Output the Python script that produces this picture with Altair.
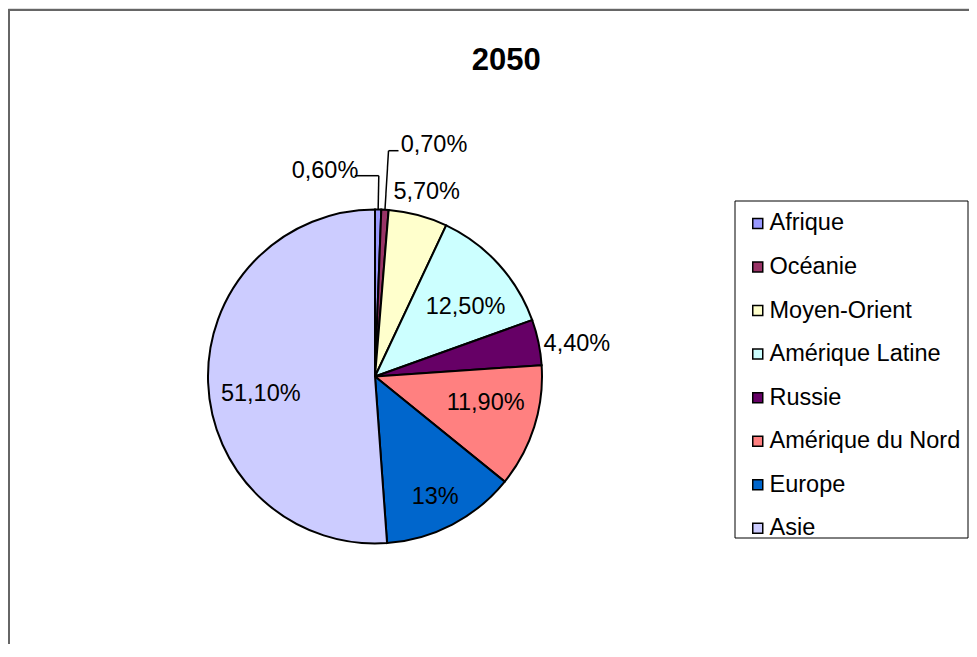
import math
import altair as alt
import pandas as pd

# ---- data ----
categories = ["Afrique", "Océanie", "Moyen-Orient", "Amérique Latine",
              "Russie", "Amérique du Nord", "Europe", "Asie"]
values = [0.6, 0.7, 5.7, 12.5, 4.4, 11.9, 13.0, 51.1]
labels = ["0,60%", "0,70%", "5,70%", "12,50%", "4,40%", "11,90%", "13%", "51,10%"]
colors = ["#9999FF", "#993366", "#FFFFCC", "#CCFFFF",
          "#660066", "#FF8080", "#0066CC", "#CCCCFF"]
title_text = "2050"

df = pd.DataFrame({"region": categories, "value": values,
                   "label": labels, "order": list(range(len(categories)))})
total = float(sum(values))

# ---- layout (view coordinates; page = view + 8) ----
W, H = 961, 636
CX, CY = 367, 368.5
R = 167
FONT = "Liberation Sans"
FS = 23.5

theta_scale = alt.Scale(domain=[0, total])
color_scale = alt.Scale(domain=categories, range=colors)

pie = alt.Chart(df).mark_arc(outerRadius=R, stroke="black", strokeWidth=2).encode(
    theta=alt.Theta("value:Q", stack=True, scale=theta_scale),
    order=alt.Order("order:Q"),
    color=alt.Color("region:N", scale=color_scale, legend=alt.Legend(
        orient="none", legendX=732, legendY=203.7, title=None, padding=0,
        symbolType="square", symbolSize=100, symbolStrokeColor="black",
        symbolStrokeWidth=1.5, symbolOffset=6, labelFont=FONT, labelFontSize=FS,
        labelColor="black", labelOffset=0, rowPadding=18.55, labelLimit=400)),
    x=alt.value(CX), y=alt.value(CY),
)

# label placement style: radius, align, dx, dy
label_style = {
    "Afrique": (172, "right", -19.9, -33.4),
    "Océanie": (172, "left", 15.4, -59.6),
    "Moyen-Orient": (172, "left", -26.0, -18.4),
    "Amérique Latine": (115, "center", 5.4, 7.6),
    "Russie": (172, "left", 0.2, 2.7),
    "Amérique du Nord": (115, "center", 1.0, -7.9),
    "Europe": (115, "center", 7.0, 18.1),
    "Asie": (115, "center", 0.7, 13.2),
}

base_text = alt.Chart(df).transform_window(
    cum="sum(value)", sort=[{"field": "order"}]
).transform_calculate(mid="datum.cum - datum.value / 2")

text_layers = []
for reg, (rad, al, ddx, ddy) in label_style.items():
    text_layers.append(
        base_text.transform_filter(alt.datum.region == reg).mark_text(
            radius=rad, align=al, baseline="middle", dx=ddx, dy=ddy,
            font=FONT, fontSize=FS, color="black").encode(
            theta=alt.Theta("mid:Q", scale=theta_scale),
            text="label:N", x=alt.value(CX), y=alt.value(CY))
    )

# leader lines for the two smallest slices (computed from the slice angles)
cum = 0.0
mids = {}
for c, v in zip(categories, values):
    mids[c] = (cum + v / 2) / total * 2 * math.pi
    cum += v
leader_spec = {"Afrique": (167.7, -24.0), "Océanie": (142.7, 10.0)}  # elbow y, horizontal length
rules = []
for reg, (ey, hl) in leader_spec.items():
    a = mids[reg]
    x0 = CX + R * math.sin(a)
    y0 = CY - R * math.cos(a)
    xe = CX + (CY - ey) * math.tan(a)
    rules.append({"x": x0, "y": y0, "x2": xe, "y2": ey})
    rules.append({"x": xe, "y": ey, "x2": xe + hl, "y2": ey})
leaders = alt.Chart(alt.Data(values=rules)).mark_rule(color="black", strokeWidth=1.5).encode(
    x=alt.X("x:Q", scale=None), y=alt.Y("y:Q", scale=None),
    x2="x2:Q", y2="y2:Q")

one = alt.Data(values=[{"t": title_text}])
title = alt.Chart(one).mark_text(font=FONT, fontSize=31, fontWeight="bold",
                                 color="black", baseline="middle").encode(
    text="t:N", x=alt.value(498.2), y=alt.value(53))

frame = alt.Chart(alt.Data(values=[{}])).mark_rect(
    fillOpacity=0, stroke="#666666", strokeWidth=2).encode(
    x=alt.value(1), y=alt.value(2), x2=alt.value(W + 60), y2=alt.value(H + 60))

legend_box = alt.Chart(alt.Data(values=[{}])).mark_rect(
    fillOpacity=0, stroke="black", strokeWidth=1).encode(
    x=alt.value(727), y=alt.value(193), x2=alt.value(960), y2=alt.value(530))

chart = alt.layer(frame, legend_box, pie, leaders, title, *text_layers).properties(
    width=W, height=H, padding=0, autosize=alt.AutoSizeParams(type="none")
).configure_view(stroke=None).configure(background="white")

chart.save("out.html", embed_options={"renderer": "svg", "actions": False})
